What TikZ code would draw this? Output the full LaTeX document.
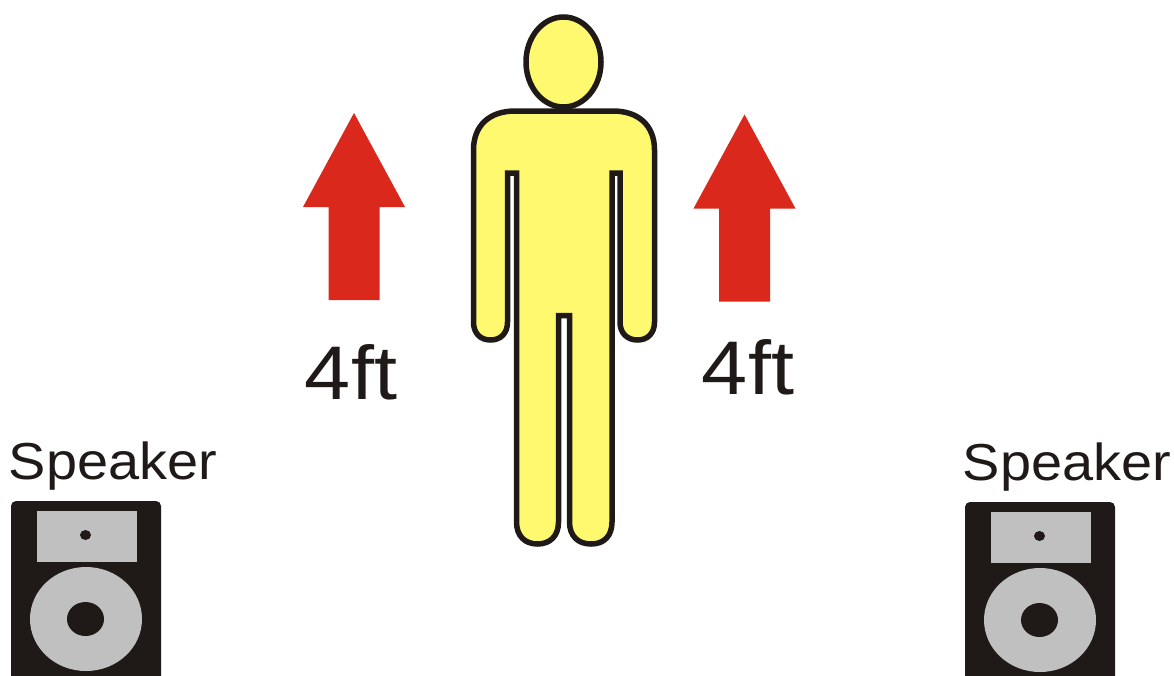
\documentclass[tikz,border=0pt]{standalone}
\usepackage{fontspec}
\setmainfont{Liberation Sans}
\definecolor{ink}{HTML}{1F1A17}
\definecolor{figred}{HTML}{DA291C}
\definecolor{figyellow}{HTML}{FFF96F}
\definecolor{muted}{HTML}{C0C0C0}
\newcommand{\spkfontsize}{\fontsize{52}{60}\selectfont}
\newcommand{\lenfontsize}{\fontsize{76}{90}\selectfont}
\tikzset{
  every picture/.style = {line join=miter},
  body/.style          = {line width=5.5pt, draw=ink, fill=figyellow},
  lift/.style          = {fill=figred},
  cone/.style          = {fill=muted},
  hole/.style          = {fill=ink},
  spklabel/.style      = {text=ink, font=\spkfontsize, inner sep=0pt, transform shape, xscale=1.075},
  lenlabel/.style      = {text=ink, font=\lenfontsize, inner sep=0pt, transform shape, xscale=1.09},
}

\begin{document}
\begin{tikzpicture}[x=1pt, y=-1pt]
  \useasboundingbox (0,0) rectangle (1174,675);

  % ---------- the person -------------------------------------------------------
  \draw[body] (473.5,150) .. controls (473.5,125) and (490,111) .. (515,111)
    -- (613,111) .. controls (638,111) and (654.5,125) .. (654.5,150)
    -- (654.5,322) .. controls (654.5,333) and (648,340) .. (637.5,340)
    .. controls (627,340) and (620,333) .. (620,322)
    -- (620,173) -- (612,173) -- (612,522)
    .. controls (612,536) and (604,544) .. (591,544)
    .. controls (578,544) and (569.5,536) .. (569.5,522)
    -- (569.5,315.5) -- (558.5,315.5) -- (558.5,522)
    .. controls (558.5,536) and (550,544) .. (537.5,544)
    .. controls (525,544) and (516.5,536) .. (516.5,522)
    -- (516.5,173) -- (507.5,173) -- (507.5,322)
    .. controls (507.5,333) and (501,340) .. (490.5,340)
    .. controls (480,340) and (473.5,333) .. (473.5,322)
    -- cycle;
  \draw[body] (563.5,62) ellipse[x radius=37.5, y radius=45];

  % ---------- the two arrows, each with its length -----------------------------
  \foreach \Ax/\Ay in {354/113, 744.5/114.5}{
    \fill[lift] (\Ax,\Ay) -- ++(51,94) -- ++(-25.5,0) -- ++(0,93) -- ++(-51,0)
      -- ++(0,-93) -- ++(-25.5,0) -- cycle;
  }
  \node[lenlabel] (lenL) at (351,372) {4ft};
  \node[lenlabel] (lenR) at (748,367) {4ft};

  % ---------- the speakers -----------------------------------------------------
  \foreach \Sx/\Sy/\Nm in {0/0/spkL, 954/1/spkR}{
    \begin{scope}[shift={(\Sx,\Sy)}]
      \fill[hole, rounded corners=5] (11,690) -- (11,501) -- (161,501) -- (161,690) -- cycle;
      \fill[cone] (37,511) rectangle (137,562);
      \fill[hole] (85.5,535) ellipse[x radius=5.5, y radius=5];
      \fill[cone] (86,619) ellipse[x radius=56, y radius=52];
      \fill[hole] (85.5,619) ellipse[x radius=18.5, y radius=17];
      \node[spklabel] (\Nm) at (113,466) {Speaker};
    \end{scope}
  }
\end{tikzpicture}
\end{document}
